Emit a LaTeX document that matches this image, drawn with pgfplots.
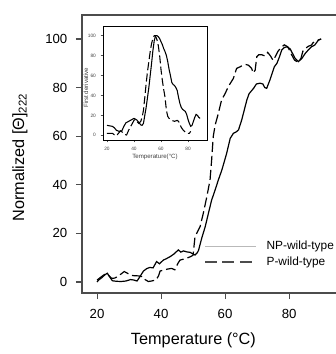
\documentclass[border=0pt]{standalone}
\usepackage{fontspec}
\setmainfont{Liberation Sans}
\usepackage{pgfplots}
\pgfplotsset{compat=1.18}
\begin{document}
\begin{tikzpicture}
\path[use as bounding box] (0,0) rectangle (252pt,265.5pt);
\begin{axis}[
  at={(61.5pt,45.75pt)}, anchor=south west,
  scale only axis, width=193.5pt, height=208.5pt,
  xmin=15.3, xmax=95.9, ymin=-4.53, ymax=109.88,
  xtick={20,40,60,80}, ytick={0,20,40,60,80,100},
  tick align=outside, xtick pos=left, ytick pos=left,
  major tick length=4.5pt,
  axis line style={draw=black!70, line width=0.9pt},
  every tick/.style={black!70, line width=0.8pt},
  tick label style={font=\fontsize{9.9}{11}\selectfont},
  /pgf/number format/assume math mode=true,
  xticklabel style={yshift=-4pt},
  yticklabel style={xshift=-3pt},
  xlabel={Temperature (°C)}, ylabel={Normalized [Θ]\textsubscript{222}},
  label style={font=\fontsize{12.2}{14}\selectfont},
  xlabel style={at={(rel axis cs:0.432,-0.169)}, anchor=center},
  ylabel style={at={(rel axis cs:-0.2403,0.487)}, anchor=center},
  legend style={at={(axis cs:53.4,18.2)}, anchor=north west, draw=none, fill=none,
    font=\fontsize{8.9}{10}\selectfont, row sep=0pt, inner sep=0pt},
  legend cell align=left,
  legend image code/.code={\draw[#1] (0pt,0pt) -- (38pt,0pt); \path (43.5pt,0pt);},
]
\addlegendimage{gray!55, line width=0.6pt}
\addlegendentry{NP-wild-type}
\addlegendimage{black!70, line width=1.3pt, dash pattern=on 9pt off 4pt}
\addlegendentry{P-wild-type}
\addplot[black, line width=0.9pt, forget plot] coordinates {
(20,0) (20.5,0.8) (21.5,1.8) (22.5,3) (23.2,3.6) (24,2) (24.8,0.5) (26,0.3) (27.5,0.2) (29,0.4) (30.5,1) (31.5,0.8) (32.5,0.4) (33.4,2.2) (34.5,4.5) (35.5,5.5) (36.5,6) (37.5,5.8) (38.6,8.4) (39.5,7.5) (40.7,9) (41.5,9.5) (42.8,10.4) (44,11.5) (45.4,13.2) (46.2,12.3) (47,12.8) (48,12.4) (49.1,12.2) (50,11.5) (50.6,11.1) (51.3,12) (51.7,13) (52.7,18) (53.8,22.8) (54.8,28.3) (55.8,33.7) (56.9,37.9) (57.9,42) (59,46.1) (60.5,53) (61.6,59.1) (62.6,61.2) (63.5,61.8) (64.2,62.6) (65.2,66.7) (66.8,74.9) (67.5,77.5) (68.9,79.7) (69.8,81.5) (70.9,81.8) (71.8,81.5) (72.4,80) (73,79.7) (74,83.1) (75.4,88.6) (76.2,90) (77,92.7) (77.7,95.5) (78.5,96.5) (79.3,96.8) (80.3,96) (81.1,94) (81.9,92) (82.9,90.7) (84,92) (85,94) (86,95.5) (87,96.8) (88,97.5) (89.2,99.6) (90,100)
};
\addplot[black, line width=0.9pt, dash pattern=on 7.5pt off 3pt, forget plot] coordinates {
(20,0.8) (21,1.8) (22,2.8) (23,3.5) (23.8,2.5) (24.6,1.5) (25.5,1.6) (26.5,2.3) (27.5,3.3) (28.5,4.3) (29.5,3.6) (30.5,2.8) (31.5,2.6) (33,2.5) (34,2.2) (35,1) (36,0.2) (37,0.4) (38.4,0.8) (39.2,2.5) (39.7,4.5) (40.7,4.9) (42,5.3) (43.3,5.6) (44.3,5) (45.2,7.5) (45.9,9) (47,9.4) (48,9.8) (49,10.3) (50,11) (50.6,18.6) (52.2,22.8) (53.2,28.3) (54.3,35.1) (55.3,42) (55.8,50.2) (56.3,59.8) (56.9,64.6) (57.9,69.4) (58.9,74.9) (60,77.5) (61,80.4) (62.6,83.8) (63.6,87.9) (64.6,88.5) (65.7,89.3) (66.5,89.5) (67.3,89.2) (68.3,87.9) (68.8,86) (69.4,87.2) (69.9,92.7) (70.5,93.5) (71.5,93.5) (72.5,93) (73.3,94.5) (74.2,93) (75,91.2) (75.8,93) (76.5,94.9) (77.5,96.5) (78.5,97.6) (79.6,96.8) (80.6,94) (81.7,91.3) (82.7,90.5) (83.7,92) (84.3,95) (85,96) (86,97) (87,97.5) (87.5,98.5) (88.4,99) (89,99.5) (90,100)
};
\end{axis}
\begin{axis}[
  at={(77.25pt,160.5pt)}, anchor=south west,
  scale only axis, width=78pt, height=85.125pt,
  xmin=17.04, xmax=94.07, ymin=-4.7, ymax=109.2,
  axis background/.style={fill=white},
  xtick={20,40,60,80}, ytick={0,20,40,60,80,100},
  tick align=outside, xtick pos=left, ytick pos=left,
  major tick length=1.8pt,
  axis line style={black, line width=0.7pt},
  every tick/.style={black!70, line width=0.4pt},
  /pgf/number format/assume math mode=true,
  tick label style={font=\fontsize{3.6}{4}\selectfont, text=black!75},
  xlabel={Temperature(°C)}, ylabel={First derivative},
  label style={font=\fontsize{4.6}{5}\selectfont, text=black!75},
  xlabel style={at={(rel axis cs:0.5,-0.147)}, anchor=center},
  ylabel style={at={(rel axis cs:-0.165,0.46)}, anchor=center},
]
\addplot[black, line width=0.8pt] coordinates {
(20,10) (22,9.5) (24,9) (25.5,7.5) (27,5) (29,4) (31,4.5) (32.5,9) (34,12.5) (36,14) (38,15.5) (40,17) (42,15.5) (43.5,13) (45,10.5) (46,10) (47,12) (48,20) (49,28) (50,38) (51,48) (52,60) (53,72) (54,85) (55,95) (56,100) (57,100) (58,99) (59,97) (60,94) (61,91) (62,87) (63,84) (64,80) (65,74) (66,66) (67,60) (68,53) (69,51) (70,50) (71,48) (72,45) (73,38) (74,32) (75,28) (76,26) (77,25) (78,24) (79,21) (80,16) (81,12) (82,9) (83,10) (84,14) (85,18) (86,21) (87,20) (88,18) (89,17)
};
\addplot[black, line width=0.8pt, dash pattern=on 6pt off 2.5pt] coordinates {
(20,2) (22,2) (24,2) (25.5,0.5) (27,-0.5) (28.5,2) (30,4.5) (31.5,3) (33,1) (34.5,0.3) (36,5) (38,10) (40,15) (41,16) (42,14) (43.5,12) (45,14) (46,18) (47,25) (48,38) (49,52) (50,64) (51,74) (52,84) (53,92) (54,97) (55,100) (55.8,100) (57,96) (58,90) (59,80) (60,66) (61,55) (62,46) (63,38) (64,25) (65,19) (66,17) (68,15) (70,14) (72,15) (73,14) (74,11) (75,8) (76,6) (78,3) (80,2) (81,2) (82,4)
};
\end{axis}
\end{tikzpicture}
\end{document}
